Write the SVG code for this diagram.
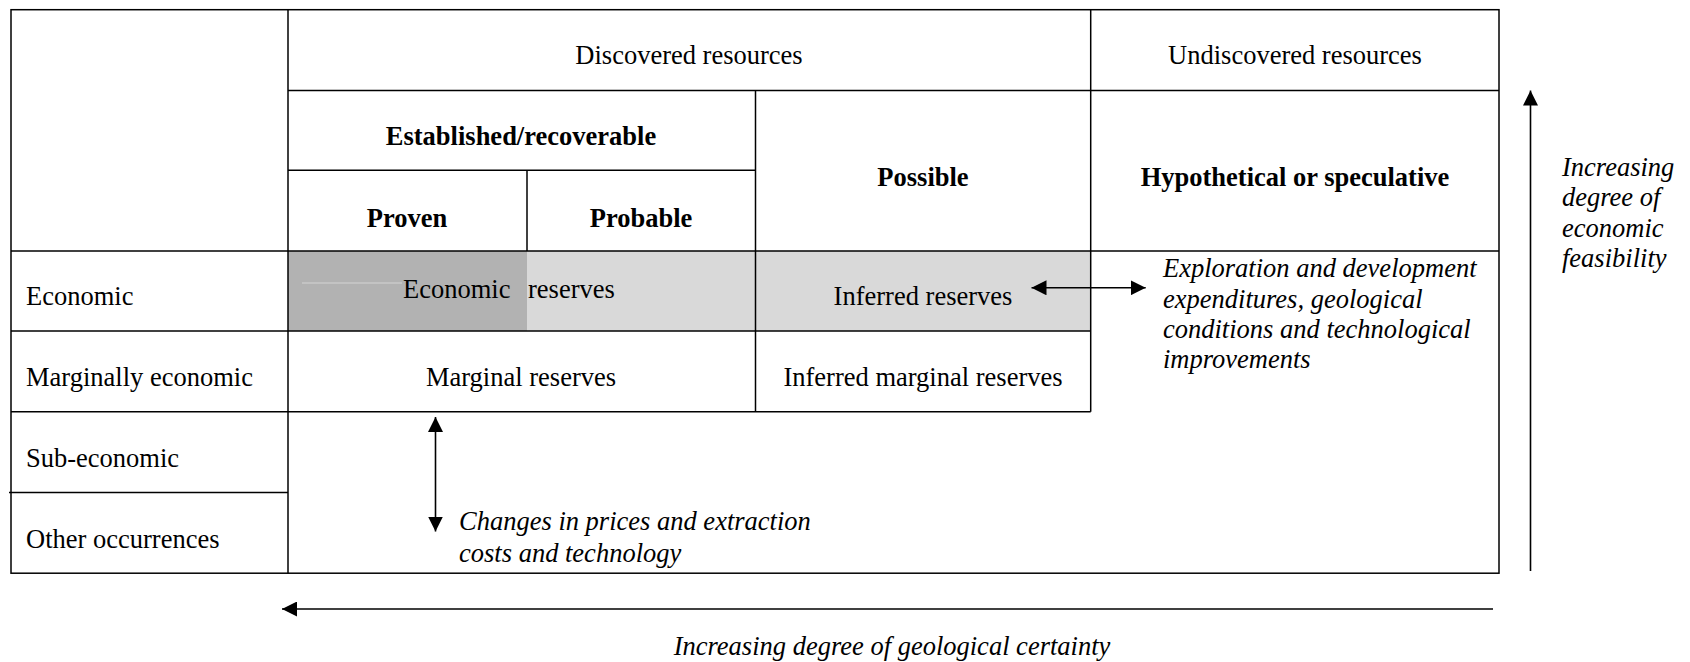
<svg xmlns="http://www.w3.org/2000/svg" width="1690" height="662" viewBox="0 0 1690 662">
<style>
text{font-family:"Liberation Serif","Times New Roman",serif;font-size:26.5px;fill:#000}
.b{font-weight:bold}
.i{font-style:italic}
.c{text-anchor:middle}
.ln{stroke:#000;stroke-width:1.5;fill:none}
.arr{stroke:#000;stroke-width:1.6;fill:none}
</style>
<defs>
<marker id="ahL" viewBox="0 0 10 10" refX="10" refY="5" markerWidth="15" markerHeight="15" markerUnits="userSpaceOnUse" orient="auto-start-reverse">
<path d="M0,0 L10,5 L0,10 Z" fill="#000"/>
</marker>
</defs>
<rect width="1690" height="662" fill="#fff"/>
<g id="fills">
<rect x="288" y="251" width="239" height="80" fill="#b2b2b2"/>
<rect x="527" y="251" width="228.5" height="80" fill="#d9d9d9"/>
<rect x="755.5" y="251" width="335.2" height="80" fill="#d9d9d9"/>
<line x1="302" y1="283" x2="402" y2="283" stroke="#d4d4d4" stroke-width="1"/>
</g>
<g id="grid">
<rect class="ln" x="11" y="9.7" width="1488" height="563.5"/>
<line class="ln" x1="288" y1="9.7" x2="288" y2="573.2"/>
<line class="ln" x1="288" y1="90.5" x2="1499" y2="90.5"/>
<line class="ln" x1="288" y1="170.3" x2="755.5" y2="170.3"/>
<line class="ln" x1="11" y1="251" x2="1499" y2="251"/>
<line class="ln" x1="11" y1="331" x2="1090.7" y2="331"/>
<line class="ln" x1="11" y1="411.7" x2="1090.7" y2="411.7"/>
<line class="ln" x1="9" y1="492.5" x2="288" y2="492.5"/>
<line class="ln" x1="527" y1="170.3" x2="527" y2="251"/>
<line class="ln" x1="755.5" y1="90.5" x2="755.5" y2="411.7"/>
<line class="ln" x1="1090.7" y1="9.7" x2="1090.7" y2="411.7"/>
</g>
<g id="discovered"><text class="c" x="689" y="63.5">Discovered resources</text></g>
<g id="undiscovered"><text class="c" x="1295" y="63.5">Undiscovered resources</text></g>
<g id="established"><text class="c b" x="521" y="145">Established/recoverable</text></g>
<g id="proven"><text class="c b" x="407" y="226.5">Proven</text></g>
<g id="probable"><text class="c b" x="641" y="226.5">Probable</text></g>
<g id="possible"><text class="c b" x="923" y="185.5">Possible</text></g>
<g id="hypothetical"><text class="c b" x="1295" y="185.5">Hypothetical or speculative</text></g>
<g id="row-economic"><text x="26" y="305">Economic</text></g>
<g id="row-marginal"><text x="26" y="385.5">Marginally economic</text></g>
<g id="row-sub"><text x="26" y="466.5">Sub-economic</text></g>
<g id="row-other"><text x="26" y="547.5">Other occurrences</text></g>
<g id="economic-reserves"><text x="510.5" y="298" text-anchor="end">Economic</text><text x="528" y="298">reserves</text></g>
<g id="inferred-reserves"><text class="c" x="923" y="304.5">Inferred reserves</text></g>
<g id="marginal-reserves"><text class="c" x="521" y="385.5">Marginal reserves</text></g>
<g id="inferred-marginal"><text class="c" x="923" y="385.5">Inferred marginal reserves</text></g>
<g id="exploration-note">
<text class="i" x="1163" y="277">Exploration and development</text>
<text class="i" x="1163" y="307.5">expenditures, geological</text>
<text class="i" x="1163" y="338">conditions and technological</text>
<text class="i" x="1163" y="368">improvements</text>
</g>
<g id="prices-note">
<text class="i" x="459" y="530">Changes in prices and extraction</text>
<text class="i" x="459" y="562">costs and technology</text>
</g>
<g id="economic-axis-label">
<text class="i" x="1562" y="176">Increasing</text>
<text class="i" x="1562" y="206">degree of</text>
<text class="i" x="1562" y="236.5">economic</text>
<text class="i" x="1562" y="267">feasibility</text>
</g>
<g id="geological-axis-label"><text class="c i" x="892" y="655">Increasing degree of geological certainty</text></g>
<g id="connectors">
<line class="arr" x1="1530.5" y1="571" x2="1530.5" y2="90.5" marker-end="url(#ahL)"/>
<line class="arr" stroke-width="2.5" x1="1493" y1="609" x2="282" y2="609" marker-end="url(#ahL)"/>
<line class="arr" x1="435.5" y1="417" x2="435.5" y2="531.5" marker-start="url(#ahL)" marker-end="url(#ahL)"/>
<line class="arr" x1="1031.5" y1="287.8" x2="1145.7" y2="287.8" marker-start="url(#ahL)" marker-end="url(#ahL)"/>
</g>
</svg>
